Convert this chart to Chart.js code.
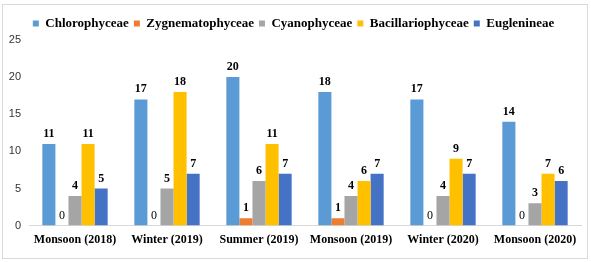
<!DOCTYPE html>
<html>
<head>
<meta charset="utf-8">
<script src="https://cdn.jsdelivr.net/npm/chart.js@4.4.0/dist/chart.umd.min.js"></script>
<style>
  html, body { margin: 0; padding: 0; background: #fff; }
  #wrap { position: absolute; left: 2px; top: 4px; width: 586px; height: 255px; border: 1px solid #d9d9d9; box-sizing: border-box; }
  canvas { display: block; }
</style>
</head>
<body>
<div id="wrap"><canvas id="myBarChart"></canvas></div>
<script>
var seasons = ['Monsoon (2018)', 'Winter (2019)', 'Summer (2019)', 'Monsoon (2019)', 'Winter (2020)', 'Monsoon (2020)'];
var chlorophyceae = [11, 17, 20, 18, 17, 14];
var zygnematophyceae = [0, 0, 1, 1, 0, 0];
var cyanophyceae = [4, 5, 6, 4, 4, 3];
var bacillariophyceae = [11, 18, 11, 6, 9, 7];
var euglenineae = [5, 7, 7, 7, 7, 6];
var yTicks = [0, 5, 10, 15, 20, 25];

var serif = '"Liberation Serif", "Times New Roman", serif';

// draws the value above each bar
var barLabels = {
    id: 'barLabels',
    afterDatasetsDraw: function(chart) {
        var ctx = chart.ctx;
        ctx.save();
        ctx.fillStyle = '#000';
        ctx.textAlign = 'center';
        ctx.textBaseline = 'middle';
        chart.data.datasets.forEach(function(ds, i) {
            chart.getDatasetMeta(i).data.forEach(function(bar, j) {
                var v = ds.data[j];
                ctx.font = (v === 0 ? '' : 'bold ') + '12px ' + serif;
                ctx.fillText(v, bar.x, bar.y - 10);
            });
        });
        ctx.restore();
    }
};

var ctx = document.getElementById('myBarChart').getContext('2d');
var myBarChart = new Chart(ctx, {
    type: 'bar',
    data: {
        labels: seasons,
        datasets: [
            { label: 'Chlorophyceae', data: chlorophyceae, backgroundColor: '#5B9BD5' },
            { label: 'Zygnematophyceae', data: zygnematophyceae, backgroundColor: '#ED7D31' },
            { label: 'Cyanophyceae', data: cyanophyceae, backgroundColor: '#A5A5A5' },
            { label: 'Bacillariophyceae', data: bacillariophyceae, backgroundColor: '#FFC000' },
            { label: 'Euglenineae', data: euglenineae, backgroundColor: '#4472C4' }
        ]
    },
    options: {
        responsive: true,
        maintainAspectRatio: false,
        animation: false,
        datasets: { bar: { barPercentage: 1, categoryPercentage: 0.71 } },
        layout: { padding: { left: 3, right: 6, top: 7, bottom: 4 } },
        plugins: {
            legend: {
                position: 'top',
                labels: {
                    boxWidth: 6,
                    boxHeight: 6,
                    padding: 5,
                    color: '#000',
                    font: { family: serif, size: 13, weight: 'bold' }
                }
            },
            tooltip: { enabled: false }
        },
        scales: {
            x: {
                grid: { display: false, drawTicks: false },
                border: { color: '#d9d9d9' },
                ticks: { color: '#000', padding: 7, maxRotation: 0, autoSkip: false, font: { family: serif, size: 12, weight: 'bold' } },
                afterFit: function(scale) {
                    scale.paddingLeft = 0;
                    scale.paddingRight = 0;
                }
            },
            y: {
                min: 0,
                max: 25,
                afterBuildTicks: function(axis) {
                    axis.ticks = yTicks.map(function(v) { return { value: v }; });
                },
                afterFit: function(axis) {
                    axis.width = 23;
                },
                grid: { display: false, drawTicks: false },
                border: { display: false },
                ticks: { color: '#333', padding: 8, font: { family: '"Liberation Sans", Arial, sans-serif', size: 11 } }
            }
        }
    },
    plugins: [barLabels]
});
</script>
</body>
</html>
